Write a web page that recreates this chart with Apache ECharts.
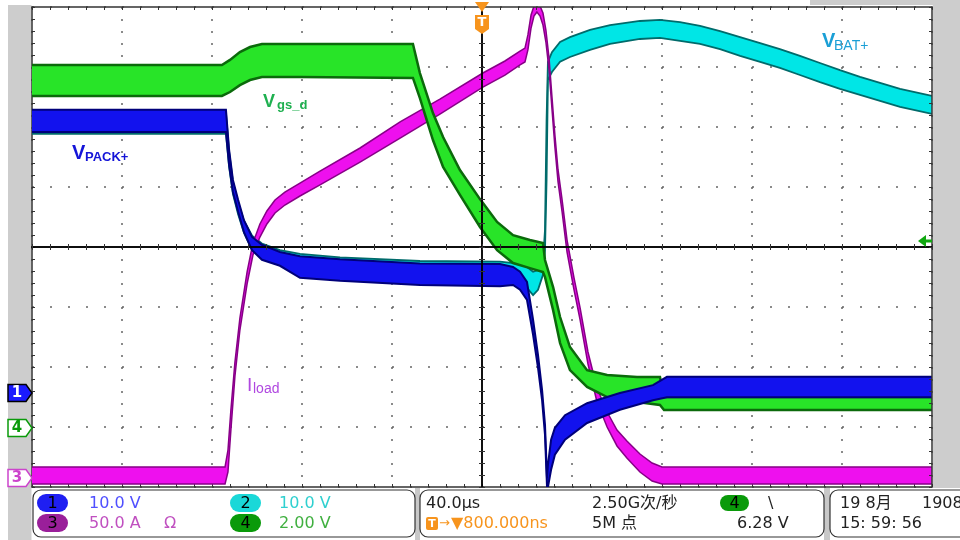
<!DOCTYPE html>
<html><head><meta charset="utf-8">
<script src="https://cdn.jsdelivr.net/npm/echarts@6.0.0/dist/echarts.min.js"></script>
<style>html,body{margin:0;padding:0;background:#fff}#c{width:960px;height:540px}</style>
</head><body><div id="c"></div>
<script>
// ---- channel settings (scale per division, ground position in divisions) ----
const ch1Scale = 10, ch1Offset = -2.433;   // V/div  (VPACK+)
const ch2Scale = 10, ch2Offset = -2.433;   // V/div  (VBAT+)
const ch3Scale = 50, ch3Offset = -3.85;    // A/div  (Iload)
const ch4Scale = 2,  ch4Offset = -3.017;   // V/div  (Vgs_d)

// ---- data: time (µs, 40 µs/div), upper / lower envelope of the trace ----
const ch1Time = [-200, -113.8, -112.4, -110.7, -108.4, -105.8, -102.2, -97.8, -89.8, -80.9, -63.1, -27.6, 8.0, 13.8, 16.9, 20.0, 22.7, 24.9, 26.7, 28.0, 28.9, 29.3, 30.7, 32.4, 36.9, 46.7, 61.3, 76.0, 82.2, 200];
const ch1High = [47.2, 47.2, 40.5, 35.5, 32.2, 28.8, 26.0, 24.7, 23.5, 22.8, 22.3, 21.6, 21.5, 21.0, 20.2, 18.5, 12.2, 6.3, 0.5, -5.3, -14.2, -12.0, -7.8, -5.8, -3.7, -1.7, 0.0, 1.3, 2.7, 2.7];
const ch1Low  = [43.5, 43.5, 38.0, 33.5, 30.2, 26.8, 23.8, 22.2, 21.2, 19.2, 18.7, 18.0, 17.8, 18.0, 17.2, 15.5, 9.7, 4.2, -1.2, -7.0, -15.7, -15.7, -12.8, -10.3, -7.8, -5.0, -2.8, -1.2, -0.7, -0.7];

const ch2Time = [-200, -113.8, -112.4, -110.7, -108.4, -105.8, -102.2, -97.8, -89.8, -80.9, -63.1, -27.6, 8.0, 16.9, 20.0, 22.7, 24.9, 27.1, 28.0, 28.7, 29.3, 31.1, 34.7, 39.1, 48.0, 56.9, 70.2, 79.1, 88.0, 96.9, 105.8, 114.7, 123.6, 132.4, 141.3, 150.2, 159.1, 168.0, 176.9, 185.8, 200];
const ch2High = [46.7, 46.7, 40.2, 35.2, 31.8, 28.7, 26.2, 24.9, 23.8, 23.2, 22.6, 22.0, 21.9, 21.5, 21.0, 20.2, 20.5, 21.8, 27.2, 45.5, 55.2, 56.8, 58.5, 59.3, 60.5, 61.3, 62.0, 62.2, 61.8, 61.2, 60.3, 59.3, 58.3, 57.3, 56.2, 55.0, 53.8, 52.7, 51.7, 50.7, 49.5];
const ch2Low  = [43.2, 43.2, 37.7, 33.2, 29.8, 26.7, 23.8, 22.5, 21.5, 20.5, 19.5, 18.8, 18.7, 18.3, 17.5, 16.3, 17.2, 19.7, 23.8, 35.5, 52.2, 53.5, 55.2, 56.0, 57.2, 58.2, 59.0, 59.2, 58.7, 58.2, 57.3, 56.2, 55.2, 54.2, 53.0, 51.8, 50.7, 49.7, 48.7, 47.7, 46.5];

const ch3Time = [-200, -114.2, -112.9, -111.6, -109.8, -107.6, -104.4, -101.8, -98.7, -95.6, -92.0, -87.6, -80.9, -72.0, -54.2, -36.4, -18.7, 0.4, 10.2, 16.9, 19.1, 20.4, 21.8, 23.1, 24.4, 25.8, 27.1, 28.4, 29.8, 31.1, 32.4, 33.8, 35.6, 37.8, 40.9, 43.6, 47.1, 51.1, 55.6, 60.0, 64.4, 70.2, 75.6, 80.0, 200];
const ch3High = [9.2, 9.2, 23.3, 56.7, 96.7, 133.3, 171.7, 195.8, 211.7, 222.5, 231.7, 238.3, 245.8, 255.8, 275.0, 296.7, 315.8, 337.5, 347.5, 355.8, 358.3, 369.2, 385.8, 393.3, 395.8, 393.3, 387.5, 373.3, 350.0, 317.5, 285.8, 256.7, 231.7, 198.3, 166.7, 141.7, 105.0, 75.0, 55.0, 40.0, 30.8, 20.0, 12.5, 9.2, 9.2];
const ch3Low  = [-5.0, -5.0, 5.0, 40.0, 85.0, 123.3, 161.7, 185.8, 200.8, 211.7, 220.8, 227.5, 235.0, 244.2, 263.3, 283.3, 303.3, 325.8, 335.8, 344.2, 346.7, 356.7, 375.0, 385.0, 388.3, 385.0, 377.5, 363.3, 340.0, 307.5, 275.8, 246.7, 221.7, 188.3, 156.7, 131.7, 95.0, 63.3, 42.5, 26.7, 16.7, 5.0, -2.5, -5.0, -5.0];

const ch4Time = [-200, -115.6, -112.0, -107.6, -103.1, -97.8, -80.9, -30.7, -27.6, -21.8, -17.3, -9.8, -0.9, 6.7, 13.8, 21.3, 27.1, 28.0, 31.6, 34.7, 39.1, 46.7, 55.6, 68.9, 79.1, 80.9, 200];
const ch4High = [12.10, 12.10, 12.27, 12.53, 12.70, 12.80, 12.80, 12.80, 11.83, 10.50, 9.70, 8.60, 7.63, 6.87, 6.43, 6.27, 6.17, 5.60, 4.70, 3.70, 2.70, 1.93, 1.77, 1.70, 1.70, 1.03, 1.03];
const ch4Low  = [11.07, 11.07, 11.20, 11.43, 11.60, 11.70, 11.70, 11.67, 11.00, 9.60, 8.70, 7.77, 6.70, 5.93, 5.50, 5.33, 5.20, 5.03, 3.93, 2.83, 1.93, 1.37, 1.03, 0.87, 0.77, 0.60, 0.60];

// ---- text ----
const panelRow1 = ['10.0 V', '10.0 V'];
const panelRow2 = ['50.0 A', '2.00 V'];
const timebase = '40.0µs', trigDelay = '▼800.000ns', sampleRate = '2.50G次/秒', recLen = '5M 点', trigLevel = '6.28 V';
const dateText = '19 8月', yearText = '1908', clockText = '15: 59: 56';

const chart = echarts.init(document.getElementById('c'), null, {renderer: 'canvas'});

// one band (persistence trace) per channel, drawn with the cartesian scale via api.coord
function band(name, t, hi, lo, scale, offset, fill, edge, z, ew) {
  return {
    type: 'custom', name: name, coordinateSystem: 'cartesian2d', xAxisIndex: 0, yAxisIndex: 0,
    data: t.map((x, i) => [x, offset + hi[i] / scale, offset + lo[i] / scale]),
    encode: {x: 0, y: [1, 2]}, clip: true, silent: true, z: z, animation: false,
    renderItem: function (params, api) {
      if (params.dataIndex !== 0) return null;
      const top = t.map((x, i) => api.coord([x, offset + hi[i] / scale]));
      const bot = t.map((x, i) => api.coord([x, offset + lo[i] / scale]));
      const poly = top.concat(bot.slice().reverse());
      return {type: 'group', children: [
        {type: 'polygon', shape: {points: poly}, style: {fill: fill, stroke: null}},
        {type: 'polyline', shape: {points: top}, style: {stroke: edge, lineWidth: ew, fill: null}},
        {type: 'polyline', shape: {points: bot}, style: {stroke: edge, lineWidth: ew, fill: null}}
      ]};
    }
  };
}

const tickCol = '#333';
function xAx(pos, onZero, inside, split, z) {
  return {type: 'value', min: -200, max: 200, interval: 40, position: pos, z: z,
    axisLine: {show: true, onZero: onZero, onZeroAxisIndex: 0, lineStyle: {color: onZero ? '#000' : '#333', width: 1.5}},
    axisTick: {show: true, inside: inside, length: 3, lineStyle: {color: tickCol}},
    minorTick: {show: true, splitNumber: 5, length: 3, lineStyle: {color: tickCol}},
    axisLabel: {show: false},
    splitLine: {show: split, lineStyle: {color: '#666', width: 1.5, type: [2, 10]}}};
}
function yAx(pos, onZero, inside, split, z) {
  return {type: 'value', min: -4, max: 4, interval: 1, position: pos, z: z,
    axisLine: {show: true, onZero: onZero, onZeroAxisIndex: 0, lineStyle: {color: onZero ? '#000' : '#333', width: 1.5}},
    axisTick: {show: true, inside: inside, length: 3, lineStyle: {color: tickCol}},
    minorTick: {show: true, splitNumber: 5, length: 3, lineStyle: {color: tickCol}},
    axisLabel: {show: false},
    splitLine: {show: split, lineStyle: {color: '#666', width: 1.5, type: [2, 16]}}};
}

const series = [
  band('ch2', ch2Time, ch2High, ch2Low, ch2Scale, ch2Offset, '#00e6e6', '#006b6b', 2, 1.8),
  band('ch3', ch3Time, ch3High, ch3Low, ch3Scale, ch3Offset, '#ee10ee', '#870087', 3, 1.5),
  band('ch4', ch4Time, ch4High, ch4Low, ch4Scale, ch4Offset, '#28e428', '#0b6a0b', 4, 2.5),
  band('ch1', ch1Time, ch1High, ch1Low, ch1Scale, ch1Offset, '#1212ee', '#00007a', 5, 2)
];

chart.setOption({
  animation: false,
  backgroundColor: '#ffffff',
  grid: {left: 32, top: 7, width: 900, height: 480, containLabel: false},
  xAxis: [xAx('bottom', false, true, true, 0), xAx('top', false, true, false, 10), xAx('bottom', true, true, false, 10), xAx('bottom', true, false, false, 10)],
  yAxis: [yAx('left', false, true, true, 0), yAx('right', false, true, false, 10), yAx('left', true, true, false, 10), yAx('left', true, false, false, 10)],
  series: series
});

// ground markers positioned through the y axis
const g1 = chart.convertToPixel({yAxisIndex: 0}, ch1Offset);
const g3 = chart.convertToPixel({yAxisIndex: 0}, ch3Offset);
const g4 = chart.convertToPixel({yAxisIndex: 0}, ch4Offset);
const trigX = chart.convertToPixel({xAxisIndex: 0}, 0);

function badge(y, fill, stroke, txt, tcol) {
  return [
    {type: 'polygon', shape: {points: [[8, y - 8.5], [26, y - 8.5], [32, y], [26, y + 8.5], [8, y + 8.5]]},
     style: {fill: fill, stroke: stroke, lineWidth: 1.5}, z: 10},
    {type: 'text', x: 17, y: y + 0.5, style: {text: txt, fill: tcol, font: 'bold 15px "DejaVu Sans"', align: 'center', verticalAlign: 'middle'}, z: 11}
  ];
}
const ff = '"DejaVu Sans", "Noto Sans CJK SC", sans-serif';
function txt(x, y, s, col, size) {
  return {type: 'text', x: x, y: y, z: 12,
    style: {text: s, fill: col, font: (size || 16) + 'px ' + ff, verticalAlign: 'middle'}};
}
function lab(x, y, s, col, font) {
  return {type: 'text', x: x, y: y, z: 12, style: {text: s, fill: col, font: font, verticalAlign: 'middle'}};
}
function oval(x, y, w, h, fill, s) {
  return [
    {type: 'rect', shape: {x: x, y: y, width: w, height: h, r: h / 2}, style: {fill: fill}, z: 12},
    {type: 'text', x: x + w / 2, y: y + h / 2 + 0.5, z: 13, style: {text: s, fill: '#000', font: '16px ' + ff, align: 'center', verticalAlign: 'middle'}}
  ];
}

const graphics = [].concat(
  [
    {type: 'rect', shape: {x: 8, y: 5, width: 23.5, height: 535}, style: {fill: '#cdcdcd'}, z: -1},
    {type: 'rect', shape: {x: 932.8, y: 5, width: 28, height: 483}, style: {fill: '#cdcdcd'}, z: -1},
    {type: 'rect', shape: {x: 810, y: 0, width: 150, height: 5}, style: {fill: '#cdcdcd'}, z: -1},
    // trigger marker
    {type: 'polygon', shape: {points: [[trigX - 7, 2], [trigX + 7, 2], [trigX, 12]]}, style: {fill: '#f7941d'}, z: 30},
    {type: 'polygon', shape: {points: [[trigX - 7, 15], [trigX + 7, 15], [trigX + 7, 29], [trigX, 34], [trigX - 7, 29]]}, style: {fill: '#f7941d'}, z: 30},
    {type: 'text', x: trigX, y: 23, z: 31, style: {text: 'T', fill: '#fff', font: 'bold 13px "DejaVu Sans"', align: 'center', verticalAlign: 'middle'}},
    // trigger level arrow (right)
    {type: 'polygon', shape: {points: [[918, 241], [926, 235], [926, 239.5], [932, 239.5], [932, 242.5], [926, 242.5], [926, 247]]}, style: {fill: '#10a810'}, z: 30},
    // channel labels
    lab(72, 153.5, 'V', '#1414d8', 'bold 20px "Liberation Sans"'),
    lab(85, 157, 'PACK+', '#1414d8', 'bold 13px "Liberation Sans"'),
    lab(263, 102, 'V', '#1fb050', 'bold 18px "Liberation Sans"'),
    lab(277, 105, 'gs_d', '#1fb050', 'bold 13px "Liberation Sans"'),
    lab(247, 386, 'I', '#b048e0', '19px "Liberation Sans"'),
    lab(253, 389, 'load', '#b048e0', '14px "Liberation Sans"'),
    lab(822, 41.5, 'V', '#1a9fd6', 'bold 20px "Liberation Sans"'),
    lab(834, 46, 'BAT+', '#1a9fd6', '14px "Liberation Sans"'),
    // bottom panels
    {type: 'rect', shape: {x: 415, y: 488, width: 5, height: 52}, style: {fill: '#c8c8c8'}, z: 5},
    {type: 'rect', shape: {x: 824, y: 488, width: 6, height: 52}, style: {fill: '#c8c8c8'}, z: 5},
    {type: 'rect', shape: {x: 33, y: 490, width: 382, height: 47, r: 8}, style: {fill: '#fff', stroke: '#333', lineWidth: 1.2}, z: 6},
    {type: 'rect', shape: {x: 420, y: 490, width: 404, height: 47, r: 8}, style: {fill: '#fff', stroke: '#333', lineWidth: 1.2}, z: 6},
    {type: 'rect', shape: {x: 830, y: 490, width: 140, height: 47, r: 8}, style: {fill: '#fff', stroke: '#333', lineWidth: 1.2}, z: 6}
  ],
  badge(g1, '#1a1aff', '#000', '1', '#fff'),
  badge(g4, '#fff', '#0a9a0a', '4', '#0a9a0a'),
  badge(g3, '#fff', '#cc44cc', '3', '#cc44cc'),
  oval(37, 494, 31, 18, '#1f1ff2', '1'),
  oval(37, 514, 31, 18, '#9a1f9a', '3'),
  oval(230, 494, 31, 18, '#1ad8d8', '2'),
  oval(230, 514, 31, 18, '#0a9a0a', '4'),
  oval(720, 495, 29, 16, '#0a9a0a', '4'),
  [
    txt(89, 504, panelRow1[0], '#5050ff'),
    txt(89, 524, panelRow2[0], '#c050c0'),
    txt(164, 524, 'Ω', '#c050c0'),
    txt(279, 504, panelRow1[1], '#30d0d0'),
    txt(279, 524, panelRow2[1], '#40b040'),
    txt(426, 504, timebase, '#222'),
    {type: 'rect', shape: {x: 426, y: 517, width: 12, height: 13, r: 2}, style: {fill: '#f7941d'}, z: 12},
    {type: 'text', x: 432, y: 524, z: 13, style: {text: 'T', fill: '#fff', font: 'bold 11px "DejaVu Sans"', align: 'center', verticalAlign: 'middle'}},
    txt(439, 524, '→', '#f7941d', 13),
    txt(451, 524, trigDelay, '#f7941d'),
    txt(592, 504, sampleRate, '#222'),
    txt(592, 524, recLen, '#222'),
    txt(768, 504, '\\', '#222'),
    txt(737, 524, trigLevel, '#222'),
    txt(840, 504, dateText, '#222'),
    txt(922, 504, yearText, '#222'),
    txt(840, 524, clockText, '#222')
  ]
);

chart.setOption({graphic: {elements: graphics}});
</script>
</body></html>
